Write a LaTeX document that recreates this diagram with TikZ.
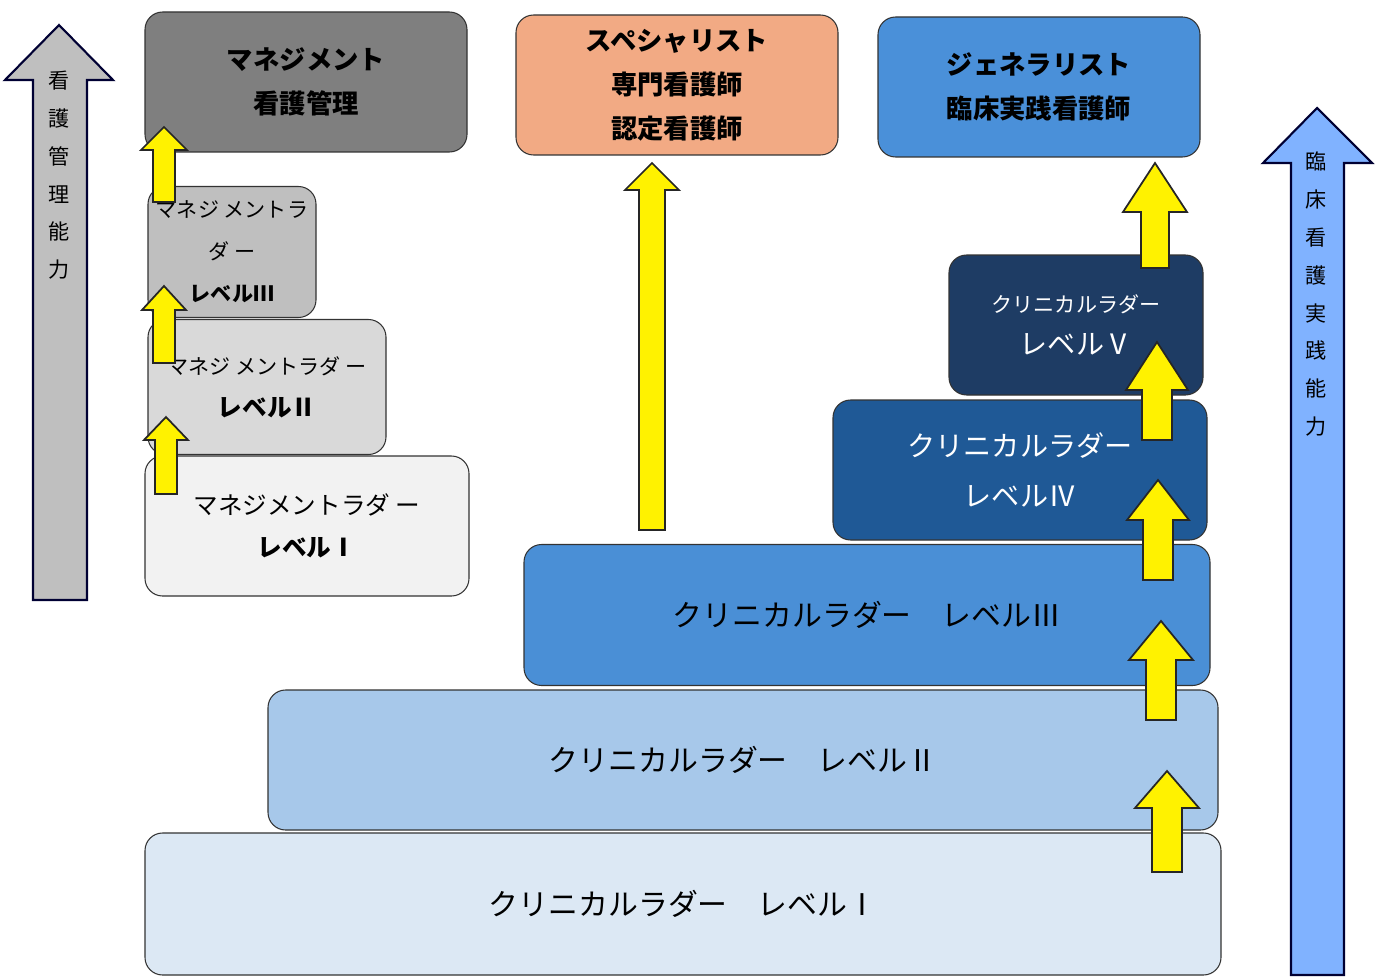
\documentclass[tikz,border=0pt]{standalone}
\usepackage{fontspec}
\setmainfont{Noto Sans CJK JP}
\newcommand{\uparr}[6]{% cx top bottom halfhead halfshaft headbase
 \draw[yarr] (#1,#2) -- (#1+#4,#6) -- (#1+#5,#6) -- (#1+#5,#3) -- (#1-#5,#3) -- (#1-#5,#6) -- (#1-#4,#6) -- cycle;}
\begin{document}
\begin{tikzpicture}[x=0.02cm,y=-0.02cm,
  box/.style={draw=black!80,line width=0.6pt,rounded corners=10pt},
  yarr/.style={fill=yellow,draw=black!85,line width=1pt},
  lbl/.style={align=center,font=\fontsize{17}{28}\selectfont},
  hd/.style={align=center,font=\bfseries\fontsize{15}{25}\selectfont},
  sm/.style={align=center,font=\fontsize{12}{24}\selectfont}]
\useasboundingbox (0,0) rectangle (1377,980);
% side arrows
\draw[fill=black!25,draw=black!80!blue,line width=1.2pt] (59,25) -- (113,80) -- (87,80) -- (87,600) -- (33,600) -- (33,80) -- (5,80) -- cycle;
\node[font=\fontsize{12}{21.5}\selectfont,align=center,anchor=north] (lt) at (59,65) {看\\護\\管\\理\\能\\力};
\draw[fill=blue!60!cyan!50,draw=black!80!blue,line width=1.2pt] (1317,108) -- (1372,163) -- (1344,163) -- (1344,975) -- (1291,975) -- (1291,163) -- (1263,163) -- cycle;
\node[font=\fontsize{12}{21.5}\selectfont,align=center,anchor=north] (rt) at (1316,146) {臨\\床\\看\\護\\実\\践\\能\\力};
% top boxes
\definecolor{cg}{HTML}{7F7F7F}\definecolor{cs}{HTML}{F2AA84}\definecolor{cb}{HTML}{4A90D9}
\node[box,fill=cg,minimum width=322*0.02cm,minimum height=140*0.02cm,hd] (mg) at (306,82) {マネジメント\\看護管理};
\node[box,fill=cs,minimum width=322*0.02cm,minimum height=140*0.02cm,hd] (sp) at (677,85) {スペシャリスト\\専門看護師\\認定看護師};
\node[box,fill=cb,minimum width=322*0.02cm,minimum height=140*0.02cm,hd] (ge) at (1039,87) {ジェネラリスト\\臨床実践看護師};
% management ladder
\node[box,fill=black!25,minimum width=168*0.02cm,minimum height=131*0.02cm,sm] (m3) at (232,252) {マネジ メントラ\\ダ ー\\\textbf{レベルⅢ}};
\node[box,fill=black!15,minimum width=238*0.02cm,minimum height=135*0.02cm,sm] (m2) at (267,387) {マネジ メントラダ ー\\\textbf{\fontsize{14}{24}\selectfont レベルⅡ}};
\node[box,fill=black!5,minimum width=324*0.02cm,minimum height=140*0.02cm,sm] (m1) at (307,526) {\fontsize{14}{24}\selectfont マネジメントラダ ー\\\textbf{\fontsize{14}{24}\selectfont レベルⅠ}};
% clinical ladder
\node[box,fill={rgb,255:red,30;green,60;blue,100},minimum width=254*0.02cm,minimum height=140*0.02cm,sm,text=white] (c5) at (1076,325) {クリニカルラダー\\\fontsize{16}{24}\selectfont レベルⅤ};
\node[box,fill={rgb,255:red,31;green,89;blue,150},minimum width=374*0.02cm,minimum height=140*0.02cm,text=white,align=center,font=\fontsize{16}{28}\selectfont] (c4) at (1020,470) {クリニカルラダー\\レベルⅣ};
\node[box,fill={rgb,255:red,74;green,143;blue,214},minimum width=686*0.02cm,minimum height=141*0.02cm,lbl] (c3) at (867,615) {クリニカルラダー　レベルⅢ};
\node[box,fill={rgb,255:red,167;green,200;blue,234},minimum width=950*0.02cm,minimum height=140*0.02cm,lbl] (c2) at (743,760) {クリニカルラダー　レベルⅡ};
\node[box,fill={rgb,255:red,220;green,232;blue,244},minimum width=1076*0.02cm,minimum height=142*0.02cm,lbl] (c1) at (683,904) {クリニカルラダー　レベルⅠ};
% yellow arrows
\uparr{164}{127}{202}{23}{11}{150}
\uparr{164}{286}{363}{22}{11}{310}
\uparr{166}{417}{494}{22}{11}{440}
\uparr{652}{163}{530}{27}{13}{190}
\uparr{1155}{163}{268}{32}{14}{212}
\uparr{1157}{342}{440}{31}{15}{390}
\uparr{1158}{480}{580}{31}{15}{520}
\uparr{1161}{621}{720}{32}{15}{660}
\uparr{1167}{771}{872}{32}{15}{808}
\end{tikzpicture}
\end{document}
